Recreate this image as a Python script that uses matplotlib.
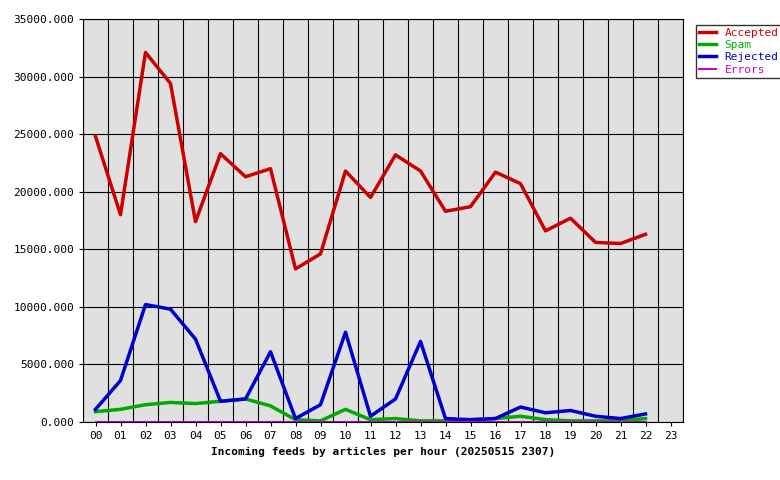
import matplotlib
matplotlib.use("Agg")
import matplotlib.pyplot as plt
import numpy as np

hours = [f"{h:02d}" for h in range(24)]
accepted = [24800,18000,32100,29400,17400,23300,21300,22000,13300,14600,21800,19500,23200,21800,18300,18700,21700,20700,16600,17700,15600,15500,16300]
spam = [900,1100,1500,1700,1600,1800,2000,1400,200,100,1100,200,300,100,100,200,300,500,200,100,100,100,300]
rejected = [1100,3600,10200,9800,7200,1800,2000,6100,300,1500,7800,500,2000,7000,300,200,300,1300,800,1000,500,300,700]
errors = [20]*23

plt.rcParams['font.family'] = ['DejaVu Sans Mono']
fig = plt.figure(figsize=(7.8,4.8), dpi=100)
ax = fig.add_axes([83/780, 1-422/480, 600/780, 403/480])
ax.set_facecolor('#e0e0e0')
x = np.arange(len(accepted))
ax.plot(x, accepted, color='#cc0000', lw=2.5, label='Accepted')
ax.plot(x, spam, color='#00aa00', lw=2.5, label='Spam')
ax.plot(x, rejected, color='#0000cc', lw=2.5, label='Rejected')
ax.plot(x, errors, color='#cc00cc', lw=1.5, label='Errors')
ax.set_xlim(-0.5, 23.5)
ax.set_ylim(0, 35000)
ax.set_xticks(range(24))
ax.set_xticklabels(hours, fontsize=8)
ax.set_xticks(np.arange(-0.5, 24, 1), minor=True)
ax.set_yticks(range(0, 35001, 5000))
ax.set_yticklabels([f"{v}.000" for v in range(0, 35001, 5000)], fontsize=8)
ax.grid(True, which='minor', axis='x', color='black', lw=0.8)
ax.grid(True, which='major', axis='y', color='black', lw=0.8)
ax.tick_params(which='minor', length=0)
ax.tick_params(which='major', length=3)
ax.set_xlabel('Incoming feeds by articles per hour (20250515 2307)', fontsize=8, fontweight='bold')
leg = fig.legend(loc='upper left', bbox_to_anchor=(690/780, 1-19/480), fontsize=8,
                 frameon=True, fancybox=False, edgecolor='black', handlelength=1.5,
                 borderpad=0.3, labelspacing=0.2)
for t, c in zip(leg.get_texts(), ['#cc0000','#00aa00','#0000cc','#cc00cc']):
    t.set_color(c)
fig.savefig('out.png', dpi=100)
